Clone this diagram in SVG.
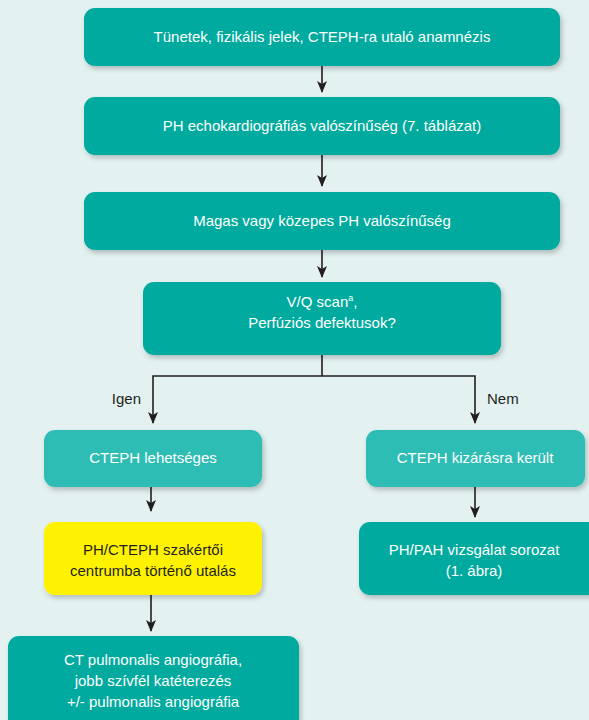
<svg xmlns="http://www.w3.org/2000/svg" width="589" height="720" viewBox="0 0 589 720">
<defs>
<style>
.box{fill:#00aa9e;}
.lt{fill:#2ebdb4;}
.yl{fill:#fff200;}
.t{font-family:"Liberation Sans",Arial,sans-serif;font-size:15px;fill:#ffffff;text-anchor:middle;}
.d{fill:#231f20;}
.lbl{font-family:"Liberation Sans",Arial,sans-serif;font-size:15px;fill:#231f20;}
.ln{stroke:#231f20;stroke-width:1.6;fill:none;}
</style>
<filter id="sh" x="-10%" y="-20%" width="130%" height="150%">
<feDropShadow dx="2" dy="3" stdDeviation="2.5" flood-color="#000" flood-opacity="0.22"/>
</filter>
<marker id="ah" markerWidth="12" markerHeight="10" refX="11" refY="5" orient="auto-start-reverse" markerUnits="userSpaceOnUse" viewBox="0 0 12 10">
<path d="M0,0 L12,5 L0,10 L3,5 Z" fill="#231f20"/>
</marker>
</defs>
<rect x="0" y="0" width="589" height="720" fill="#e3f1f1"/>
<g id="connectors">
<line class="ln" x1="322" y1="66" x2="322" y2="92" marker-end="url(#ah)"/>
<line class="ln" x1="322" y1="155" x2="322" y2="186" marker-end="url(#ah)"/>
<line class="ln" x1="322" y1="250" x2="322" y2="277" marker-end="url(#ah)"/>
<polyline class="ln" points="322,355 322,376"/>
<polyline class="ln" points="153,423 153,376 475,376 475,423" marker-start="url(#ah)" marker-end="url(#ah)"/>
<line class="ln" x1="151" y1="487" x2="151" y2="511" marker-end="url(#ah)"/>
<line class="ln" x1="475" y1="487" x2="475" y2="517" stroke-width="2.2" marker-end="url(#ah)"/>
<line class="ln" x1="151" y1="595" x2="151" y2="631" marker-end="url(#ah)"/>
<text class="lbl" x="141" y="404" text-anchor="end">Igen</text>
<text class="lbl" x="487" y="404">Nem</text>
</g>
<g id="n1"><rect class="box" x="84" y="8" width="476" height="58" rx="11" filter="url(#sh)"/>
<text class="t" x="322" y="42">Tünetek, fizikális jelek, CTEPH-ra utaló anamnézis</text></g>
<g id="n2"><rect class="box" x="84" y="97" width="476" height="58" rx="11" filter="url(#sh)"/>
<text class="t" x="322" y="131">PH echokardiográfiás valószínűség (7.  táblázat)</text></g>
<g id="n3"><rect class="box" x="84" y="192" width="476" height="58" rx="11" filter="url(#sh)"/>
<text class="t" x="322" y="226">Magas vagy közepes PH valószínűség</text></g>
<g id="n4"><rect class="box" x="143" y="282" width="358" height="73" rx="11" filter="url(#sh)"/>
<text class="t" x="322" y="307">V/Q scan<tspan font-size="9" dy="-6">a</tspan><tspan dy="6">,</tspan></text>
<text class="t" x="322" y="328">Perfúziós defektusok?</text></g>
<g id="n5"><rect class="lt" x="44" y="430" width="218" height="57" rx="11" filter="url(#sh)"/>
<text class="t" x="153" y="463">CTEPH lehetséges</text></g>
<g id="n6"><rect class="lt" x="366" y="430" width="219" height="57" rx="11" filter="url(#sh)"/>
<text class="t" x="475" y="463">CTEPH kizárásra került</text></g>
<g id="n7"><rect class="yl" x="44" y="522" width="218" height="73" rx="11" filter="url(#sh)"/>
<text class="t d" x="153" y="555">PH/CTEPH szakértői</text>
<text class="t d" x="153" y="576">centrumba történő utalás</text></g>
<g id="n8"><rect class="box" x="359" y="522" width="240" height="73" rx="11" filter="url(#sh)"/>
<text class="t" x="474" y="555">PH/PAH vizsgálat sorozat</text>
<text class="t" x="474" y="576">(1. ábra)</text></g>
<g id="n9"><rect class="box" x="8" y="636" width="291" height="94" rx="11" filter="url(#sh)"/>
<text class="t" x="153" y="665">CT pulmonalis angiográfia,</text>
<text class="t" x="153" y="686">jobb szívfél katéterezés</text>
<text class="t" x="153" y="707">+/- pulmonalis angiográfia</text></g>
</svg>
